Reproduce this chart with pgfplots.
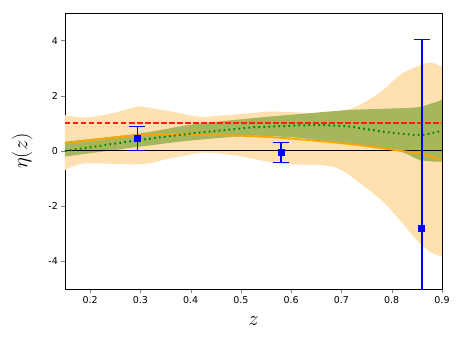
\documentclass[border=0pt]{standalone}
\usepackage{pgfplots}
\pgfplotsset{compat=1.18}
\usepgfplotslibrary{fillbetween}
\usepackage{fontspec}
\setmainfont{DejaVu Sans}
\definecolor{bandorange}{RGB}{255,224,176}
\definecolor{bandgreen}{RGB}{165,182,92}
\definecolor{lineorange}{RGB}{255,165,0}
\definecolor{dotgreen}{RGB}{0,128,0}
\definecolor{refred}{RGB}{255,30,20}
\begin{document}
\begin{tikzpicture}
\begin{axis}[name=ax, at={(0,0)}, anchor=south west,
  scale only axis, width=377pt, height=276pt,
  xmin=0.15, xmax=0.9, ymin=-5, ymax=5,
  xtick={0.2,0.3,0.4,0.5,0.6,0.7,0.8,0.9},
  ytick={-4,-2,0,2,4},
  xticklabel style={/pgf/number format/fixed,/pgf/number format/precision=1},
  /pgf/number format/assume math mode=true,
  tick label style={font=\fontsize{9.5}{11}\selectfont},
  tick align=outside, tick pos=left, major tick length=3.5pt,
  axis line style={black, line width=0.8pt},
  xlabel={$z$}, ylabel={$\eta(z)$},
  label style={font=\fontsize{21}{24}\selectfont},
  xlabel style={yshift=-6pt},
  ylabel style={yshift=9pt},
  clip=true]
% orange band
\addplot[draw=none, smooth, name path=ou] coordinates {
(0.15,1.3)(0.19,1.21)(0.24,1.35)(0.293,1.6)(0.32,1.56)(0.37,1.4)(0.418,1.24)(0.47,1.3)(0.518,1.37)(0.55,1.42)(0.584,1.42)(0.65,1.37)(0.7,1.45)(0.74,1.7)(0.783,2.21)(0.816,2.75)(0.849,3.05)(0.876,3.2)(0.9,3.05)};
\addplot[draw=none, smooth, name path=ol] coordinates {
(0.15,-0.69)(0.19,-0.45)(0.3,-0.48)(0.359,-0.27)(0.425,-0.06)(0.485,-0.15)(0.538,-0.33)(0.584,-0.47)(0.683,-0.57)(0.737,-1.17)(0.783,-1.84)(0.816,-2.5)(0.849,-3.22)(0.876,-3.65)(0.9,-3.83)};
\addplot[fill=bandorange, draw=none] fill between[of=ou and ol];
% green band
\addplot[draw=none, smooth, name path=gu] coordinates {
(0.15,0.34)(0.3,0.64)(0.4,0.95)(0.518,1.18)(0.65,1.39)(0.72,1.49)(0.816,1.55)(0.856,1.6)(0.9,1.85)};
\addplot[draw=none, smooth, name path=gl] coordinates {
(0.15,-0.2)(0.3,0.16)(0.4,0.38)(0.518,0.55)(0.6,0.5)(0.65,0.4)(0.72,0.25)(0.816,-0.02)(0.856,-0.33)(0.9,-0.39)};
\addplot[fill=bandgreen, draw=none] fill between[of=gu and gl];
% zero line
\addplot[color=black, line width=1pt] coordinates {(0.15,0)(0.9,0)};
% orange line
\addplot[color=lineorange, line width=1.8pt, smooth] coordinates {
(0.15,0.28)(0.3,0.58)(0.405,0.6)(0.518,0.54)(0.6,0.45)(0.717,0.25)(0.816,0.01)(0.862,-0.11)(0.9,-0.33)};
% green dotted
\addplot[color=dotgreen, line width=2pt, dash pattern=on 1.6pt off 3.4pt, smooth] coordinates {
(0.15,0.0)(0.3,0.4)(0.405,0.64)(0.518,0.85)(0.538,0.87)(0.65,0.94)(0.717,0.88)(0.783,0.70)(0.856,0.58)(0.9,0.74)};
% red dashed
\addplot[color=refred, line width=2pt, solid, dash pattern=on 5.5pt off 2.5pt] coordinates {(0.15,1) (0.9,1)};
% data with error bars
\addplot[only marks, color=blue, mark=square*, mark size=2.8pt, line width=1.4pt,
  error bars/.cd, y dir=both, y explicit, error mark=-, error mark options={mark size=8pt, line width=1pt, rotate=90},
  error bar style={line width=1.4pt}]
coordinates {
(0.294,0.46) +- (0,0.44)
(0.58,-0.06) +- (0,0.35)
(0.86,-2.8) +- (0,6.85)};
\end{axis}
\pgfresetboundingbox
\path (-65pt,-57pt) rectangle (396pt,289pt);
\end{tikzpicture}
\end{document}
